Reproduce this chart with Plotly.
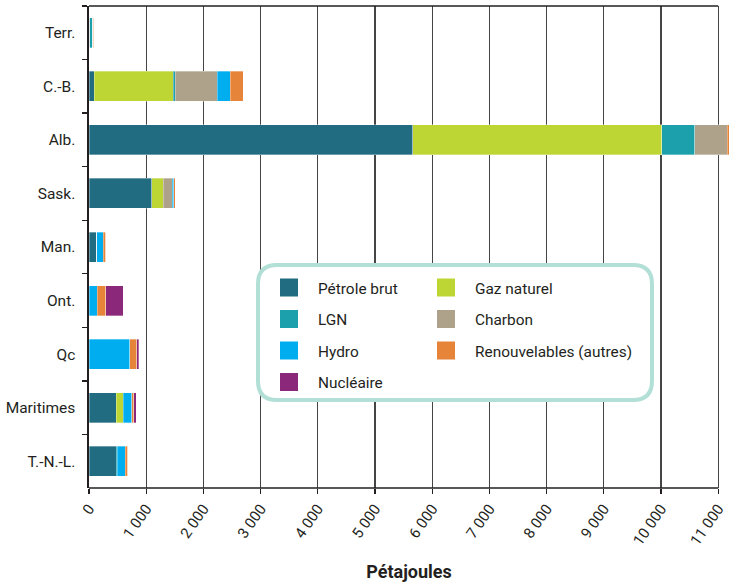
import plotly.graph_objects as go

categories = ["Terr.", "C.-B.", "Alb.", "Sask.", "Man.", "Ont.", "Qc", "Maritimes", "T.-N.-L."]

petrole_brut = [10, 90, 5664, 1096, 135, 0, 0, 476, 476]
gaz_naturel = [0, 1380, 4348, 203, 0, 0, 0, 122, 0]
lgn = [55, 35, 582, 0, 0, 0, 0, 0, 15]
charbon = [0, 734, 560, 152, 0, 0, 0, 0, 0]
hydro = [0, 233, 0, 29, 112, 140, 711, 147, 140]
renouvelables = [15, 227, 40, 29, 45, 157, 123, 40, 48]
nucleaire = [0, 0, 0, 0, 0, 303, 35, 40, 0]

series_names = ["Pétrole brut", "Gaz naturel", "LGN", "Charbon", "Hydro",
                "Renouvelables (autres)", "Nucléaire"]
series_values = [petrole_brut, gaz_naturel, lgn, charbon, hydro, renouvelables, nucleaire]
series_colors = ["#216c80", "#bdd633", "#1ca0ab", "#aea28a", "#00aeef", "#e6843a", "#8b2879"]

tick_values = [0, 1000, 2000, 3000, 4000, 5000, 6000, 7000, 8000, 9000, 10000, 11000]
tick_labels = ["0", "1 000", "2 000", "3 000", "4 000", "5 000", "6 000", "7 000",
               "8 000", "9 000", "10 000", "11 000"]

# legend columns
legend1_items = ["Pétrole brut", "LGN", "Hydro", "Nucléaire"]
legend2_items = ["Gaz naturel", "Charbon", "Renouvelables (autres)"]

FONT = "Roboto, Liberation Sans, sans-serif"
TXT = "#231f20"

fig = go.Figure()
for name, vals, col in zip(series_names, series_values, series_colors):
    fig.add_trace(go.Bar(
        y=categories, x=vals, name=name, orientation="h",
        marker=dict(color=col, line=dict(color="rgba(255,255,255,0.55)", width=0.6)),
        showlegend=False,
    ))

# legend entries (square swatches)
for name, col in zip(series_names, series_colors):
    leg = "legend" if name in legend1_items else "legend2"
    fig.add_trace(go.Scatter(
        x=[None], y=[None], mode="markers", name=name, legend=leg,
        legendgroup=name,
        marker=dict(symbol="square", size=16, color=col, line=dict(color=col, width=2)),
        showlegend=True, hoverinfo="skip",
    ))

W, H = 729, 582
ml, mr, mt, mb = 89, 0, 6, 94
pw = W - ml - mr
ph = H - mt - mb
px_per_k = 57.2
xmax = pw / px_per_k * 1000


def px_to_paper_x(px):
    return (px - ml) / pw


def px_to_paper_y(py):
    return 1 - (py - mt) / ph


# rounded legend box
bx0, bx1, by0, by1 = 258, 652, 265, 400
r = 19
rx, ry = r / pw, r / ph
X0, X1 = px_to_paper_x(bx0), px_to_paper_x(bx1)
Y1, Y0 = px_to_paper_y(by0), px_to_paper_y(by1)
path = (f"M{X0+rx},{Y1} L{X1-rx},{Y1} Q{X1},{Y1} {X1},{Y1-ry} "
        f"L{X1},{Y0+ry} Q{X1},{Y0} {X1-rx},{Y0} L{X0+rx},{Y0} "
        f"Q{X0},{Y0} {X0},{Y0+ry} L{X0},{Y1-ry} Q{X0},{Y1} {X0+rx},{Y1} Z")

shapes = [
    dict(type="path", path=path, xref="paper", yref="paper",
         line=dict(color="#b2e0d7", width=4), fillcolor="white", layer="above"),
    dict(type="line", xref="x", yref="paper", x0=0, x1=11000, y0=1, y1=1,
         line=dict(color="#231f20", width=1.6), layer="above"),
    dict(type="line", xref="x", yref="paper", x0=0, x1=11000, y0=0, y1=0,
         line=dict(color="#231f20", width=1.6), layer="above"),
]

legend_common = dict(
    orientation="v", traceorder="grouped", tracegroupgap=8.5,
    font=dict(family=FONT, size=15.4, color=TXT),
    bgcolor="rgba(0,0,0,0)", borderwidth=0, itemwidth=48,
    xanchor="left", yanchor="top", itemclick=False, itemdoubleclick=False,
)

fig.update_layout(
    width=W, height=H,
    margin=dict(l=ml, r=mr, t=mt, b=mb),
    paper_bgcolor="white", plot_bgcolor="white",
    barmode="stack", bargap=0.44,
    font=dict(family=FONT, color=TXT),
    shapes=shapes,
    hovermode=False,
    legend=dict(**legend_common, x=px_to_paper_x(260), y=px_to_paper_y(271)),
    legend2=dict(**legend_common, x=px_to_paper_x(417), y=px_to_paper_y(271)),
    xaxis=dict(
        range=[0, xmax], tickvals=tick_values, ticktext=tick_labels,
        tickangle=-55, ticks="outside", ticklen=5, tickwidth=1.4, tickcolor="#231f20",
        showgrid=True, gridcolor="#454545", gridwidth=1.4, zeroline=False,
        showline=False, tickfont=dict(family=FONT, size=15, color=TXT),
        title=dict(text="<b>Pétajoules</b>", font=dict(family=FONT, size=18, color=TXT),
                   standoff=20),
        automargin=False, fixedrange=True,
    ),
    yaxis=dict(
        categoryorder="array", categoryarray=categories, autorange="reversed",
        ticks="outside", tickson="boundaries", ticklen=5, tickwidth=1.4,
        tickcolor="#231f20", showline=True, linecolor="#231f20", linewidth=1.6,
        showgrid=False, zeroline=False, ticklabelstandoff=9,
        tickfont=dict(family=FONT, size=15.5, color=TXT), automargin=False,
        fixedrange=True,
    ),
)

fig.write_html("out.html",
               config={"displayModeBar": False, "staticPlot": True},
               post_script="document.body.style.margin='0px';document.body.style.overflow='hidden';")
